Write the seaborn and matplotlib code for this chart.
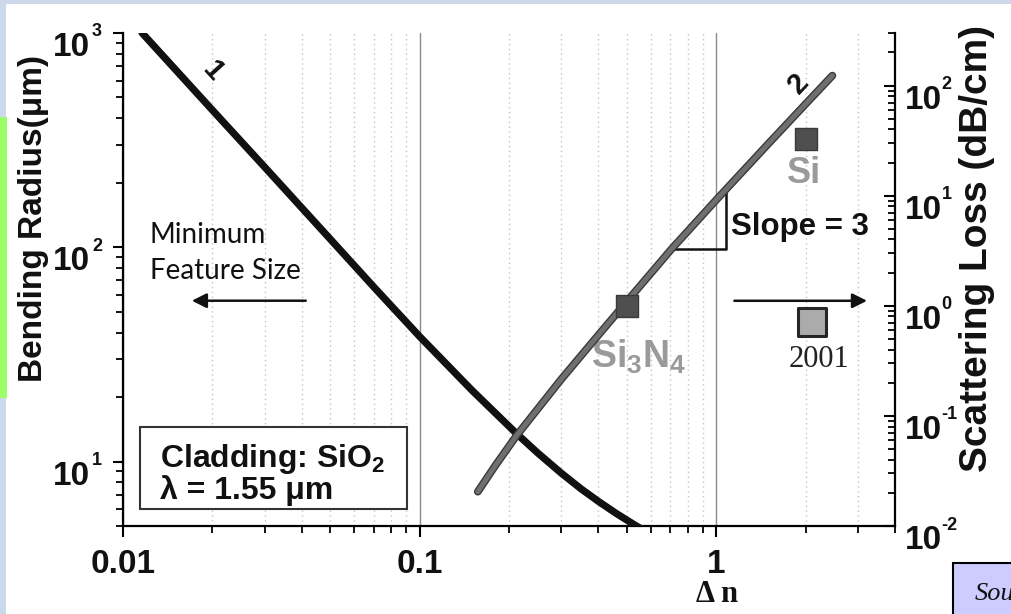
import numpy as np
import pandas as pd
import matplotlib
matplotlib.use("Agg")
import matplotlib.pyplot as plt
import matplotlib.patheffects as pe
from matplotlib.patches import Rectangle
from matplotlib.ticker import FixedLocator, FixedFormatter, LogLocator, NullFormatter
from matplotlib.transforms import ScaledTranslation, blended_transform_factory
import seaborn as sns

# ---------------- data ----------------
# curve 1 : minimum bending radius (left axis, um) vs index contrast
delta_n_radius = [0.0116, 0.02, 0.03, 0.05, 0.07, 0.1, 0.15, 0.212, 0.25, 0.3, 0.35, 0.4, 0.46, 0.53, 0.6]
bending_radius = [1000, 437, 237, 109, 65.3, 38.3, 21.5, 13.5, 10.96, 8.83, 7.45, 6.52, 5.72, 5.06, 4.57]

# curve 2 : scattering loss (right axis, dB/cm) vs index contrast
delta_n_loss = [0.157, 0.18, 0.212, 0.3, 0.4, 0.5, 0.705, 1.0, 1.5, 2.0, 2.46]
scattering_loss = [0.0205, 0.0355, 0.0661, 0.215, 0.541, 1.10, 3.26, 9.18, 29.8, 68.1, 123]

# measured points
material_names = ["Si", "Si$_\\mathregular{3}$N$_\\mathregular{4}$"]
material_dn = [2.0, 0.5]
material_loss = [32.8, 1.0]
point_2001_dn = [2.1]
point_2001_loss = [0.71]

# slope triangle (on curve 2)
slope_tri_x = [0.705, 1.08, 1.08]
slope_tri_y = [3.26, 3.26, 11.5]

x_ticks = [0.01, 0.1, 1]
x_ticklabels = ["0.01", "0.1", "1"]
left_ticks = [10, 100, 1000]
left_ticklabels = ["10", "10", "10"]
left_exponents = ["1", "2", "3"]
right_ticks = [0.01, 0.1, 1, 10, 100]
right_ticklabels = ["10", "10", "10", "10", "10"]
right_exponents = ["-2", "-1", "0", "1", "2"]

df1 = pd.DataFrame({"dn": delta_n_radius, "R": bending_radius})
df2 = pd.DataFrame({"dn": delta_n_loss, "loss": scattering_loss})
dfm = pd.DataFrame({"dn": material_dn, "loss": material_loss, "name": material_names})
df01 = pd.DataFrame({"dn": point_2001_dn, "loss": point_2001_loss})

# ---------------- style ----------------
sns.set_theme(style="white")
plt.rcParams["font.family"] = ["Liberation Sans", "DejaVu Sans"]
plt.rcParams["font.weight"] = "bold"
plt.rcParams["mathtext.fontset"] = "custom"
plt.rcParams["mathtext.rm"] = "Liberation Sans"
plt.rcParams["mathtext.bf"] = "Liberation Sans:bold"
plt.rcParams["mathtext.default"] = "regular"

W, H = 1011, 614
fig = plt.figure(figsize=(W / 100, H / 100), dpi=100, facecolor="#cbd9ea")
fig.patches.append(Rectangle((6 / W, 0), 1, 1 - 4 / H, transform=fig.transFigure,
                             facecolor="white", edgecolor="none", zorder=-10))
fig.patches.append(Rectangle((0, 1 - 398 / H), 7 / W, (398 - 117) / H, transform=fig.transFigure,
                             facecolor="#99ff66", edgecolor="none", zorder=-9))

ax = fig.add_axes([123 / W, 1 - 526 / H, (895 - 123) / W, (526 - 33) / H])
ax.set_facecolor("none")
ax.set_xscale("log")
ax.set_yscale("log")
ax.set_xlim(0.01, 4)
ax.set_ylim(5, 1000)

ax2 = ax.twinx()
ax2.set_yscale("log")
ax2.set_ylim(0.01, 300)

# ---------------- grid ----------------
ax.xaxis.set_major_locator(FixedLocator(x_ticks))
ax.xaxis.set_major_formatter(FixedFormatter(x_ticklabels))
ax.xaxis.set_minor_locator(LogLocator(base=10, subs=np.arange(2, 10)))
ax.xaxis.set_minor_formatter(NullFormatter())
ax.grid(True, which="major", axis="x", color="#8a8a8a", lw=1.0, ls="-")
ax.grid(True, which="minor", axis="x", color="#c4c4c4", lw=1.0, ls=(0, (1, 2.5)))
ax.grid(False, axis="y")
ax2.grid(False)

# ---------------- curves ----------------
sns.lineplot(data=df1, x="dn", y="R", ax=ax, color="#111111", linewidth=5.2,
             sort=False, estimator=None, legend=False, zorder=4)
sns.lineplot(data=df2, x="dn", y="loss", ax=ax2, color="#6f6f6f", linewidth=3.6,
             sort=False, estimator=None, legend=False, zorder=4,
             path_effects=[pe.Stroke(linewidth=5.6, foreground="#3a3a3a"), pe.Normal()])
sns.scatterplot(data=dfm, x="dn", y="loss", ax=ax2, marker="s", s=250, color="#4f4f4f",
                edgecolor="#3a3a3a", linewidth=1, legend=False, zorder=6)
sns.scatterplot(data=df01, x="dn", y="loss", ax=ax2, marker="s", s=420, color="#ababab",
                edgecolor="#262626", linewidth=2.2, legend=False, zorder=6)

# ---------------- axes styling ----------------
for a in (ax, ax2):
    for s in a.spines.values():
        s.set_visible(False)
        s.set_color("black")
        s.set_linewidth(1.6)
ax.spines["left"].set_visible(True)
ax.spines["bottom"].set_visible(True)
ax2.spines["right"].set_visible(True)

ax.yaxis.set_major_locator(FixedLocator(left_ticks))
ax.yaxis.set_major_formatter(FixedFormatter(left_ticklabels))
ax.yaxis.set_minor_locator(LogLocator(base=10, subs=np.arange(2, 10)))
ax.yaxis.set_minor_formatter(NullFormatter())
ax2.yaxis.set_major_locator(FixedLocator(right_ticks))
ax2.yaxis.set_major_formatter(FixedFormatter(right_ticklabels))
ax2.yaxis.set_minor_locator(LogLocator(base=10, subs=np.arange(2, 10)))
ax2.yaxis.set_minor_formatter(NullFormatter())

ax.tick_params(axis="x", which="major", direction="out", length=8, width=1.5,
               color="black", labelsize=24, labelcolor="#111111", bottom=True, top=False, pad=8.5)
ax.tick_params(axis="x", which="minor", direction="out", length=5, width=1.3,
               color="black", bottom=True, top=False)
ax.tick_params(axis="y", which="major", direction="out", length=7, width=1.5,
               color="black", labelsize=24, labelcolor="#111111", left=True, right=False, pad=16.5)
ax.tick_params(axis="y", which="minor", direction="out", length=5, width=1.3,
               color="black", left=True, right=False)
ax2.tick_params(axis="y", which="major", direction="in", length=8, width=1.5, color="black",
                labelsize=24, labelcolor="#111111", right=True, left=False, pad=7)
ax2.tick_params(axis="y", which="minor", direction="in", length=5, width=1.3, color="black",
                right=True, left=False)

ax.set_xlabel("Δ n", fontsize=22, fontweight="bold", family=["Liberation Serif", "DejaVu Serif"],
              color="#111111", va="top")
ax.xaxis.set_label_coords((717 - 123) / 772, (526 - 580) / 493)
ax.set_ylabel("Bending Radius(μm)", fontsize=24, fontweight="bold", color="#111111", va="center")
ax.yaxis.set_label_coords((34 - 123) / 772, (526 - 219) / 493)
ax2.set_ylabel("Scattering Loss (dB/cm)", fontsize=28, fontweight="bold", color="#111111",
               va="center", rotation=90)
ax2.yaxis.set_label_coords((977 - 123) / 772, (526 - 248) / 493)

# tick labels ("10") sit a little below their ticks, exponents level with the ticks
down = ScaledTranslation(0, -0.11, fig.dpi_scale_trans)
for axis in (ax.yaxis, ax2.yaxis):
    for t in axis.get_major_ticks():
        t.label1.set_transform(t.label1.get_transform() + down)
        t.label2.set_transform(t.label2.get_transform() + down)

trL = blended_transform_factory(ax.transAxes, ax.transData)
for v, e in zip(left_ticks, left_exponents):
    ax.text(0, v, e, transform=trL + ScaledTranslation(-0.31, 0.01, fig.dpi_scale_trans),
            ha="left", va="center", fontsize=13, color="#111111")
trR = blended_transform_factory(ax2.transAxes, ax2.transData)
for v, e in zip(right_ticks, right_exponents):
    ax2.text(1, v, e, transform=trR + ScaledTranslation(0.465, 0.01, fig.dpi_scale_trans),
             ha="left", va="center", fontsize=13, color="#111111")

# ---------------- annotations ----------------
ax.text(0.0201, 665, "1", rotation=-48, ha="center", va="center", fontsize=21,
        color="#111111", zorder=7)
ax2.text(1.90, 104, "2", rotation=47, ha="center", va="center", fontsize=21,
         color="#111111", zorder=7)
ax2.text(1.98, 16.0, material_names[0], ha="center", va="center", fontsize=26, color="#9a9a9a")
ax2.text(0.379, 0.272, material_names[1], ha="left", va="baseline", fontsize=27, color="#9a9a9a")
ax2.text(2.22, 0.328, "2001", ha="center", va="center", fontsize=22, fontweight="normal",
         family=["Liberation Serif", "DejaVu Serif"], color="#222222")

ax2.plot(slope_tri_x, slope_tri_y, color="#111111", lw=1.8, zorder=3)
ax2.text(1.123, 5.15, "Slope = 3", ha="left", va="center", fontsize=22.5, color="#111111")

ax2.annotate("", xy=(3.22, 1.11), xytext=(1.15, 1.11),
             arrowprops=dict(arrowstyle="-|>", color="#111111", lw=1.8,
                             mutation_scale=22, shrinkA=0, shrinkB=0))
ax.annotate("", xy=(0.01706, 56.3), xytext=(0.0413, 56.3),
            arrowprops=dict(arrowstyle="-|>", color="#111111", lw=1.8,
                            mutation_scale=22, shrinkA=0, shrinkB=0))
ax.text(0.01233, 131.5, "Minimum\nFeature Size", ha="left", va="top", fontsize=20,
        fontweight="normal", family=["Lato", "DejaVu Sans"], color="#111111", linespacing=1.5)

# cladding box
ax.add_patch(Rectangle(((140 - 123) / 772, (526 - 509) / 493), (407 - 140) / 772, (509 - 427) / 493,
                       transform=ax.transAxes, facecolor="white", edgecolor="#333333",
                       lw=1.5, zorder=5))
ax.text((160 - 123) / 772, (526 - 467) / 493, "Cladding: SiO$_\\mathregular{2}$",
        transform=ax.transAxes, ha="left", va="baseline", fontsize=23, color="#111111", zorder=6)
ax.text((160 - 123) / 772, (526 - 499) / 493, "λ = 1.55 μm",
        transform=ax.transAxes, ha="left", va="baseline", fontsize=23, color="#111111", zorder=6)

# source box (cut off by the right/bottom edge, as in the reference)
fig.patches.append(Rectangle((953 / W, -0.05), 0.2, 0.05 + (614 - 563) / H,
                             transform=fig.transFigure, facecolor="#ccccff",
                             edgecolor="black", lw=1.5, zorder=5))
fig.text(975 / W, 1 - 600 / H, "Source:", fontsize=19, fontstyle="italic", fontweight="normal",
         family=["Liberation Serif", "DejaVu Serif"], color="#111111", ha="left",
         va="baseline", zorder=6)

fig.savefig("out.png", dpi=100, facecolor=fig.get_facecolor())
